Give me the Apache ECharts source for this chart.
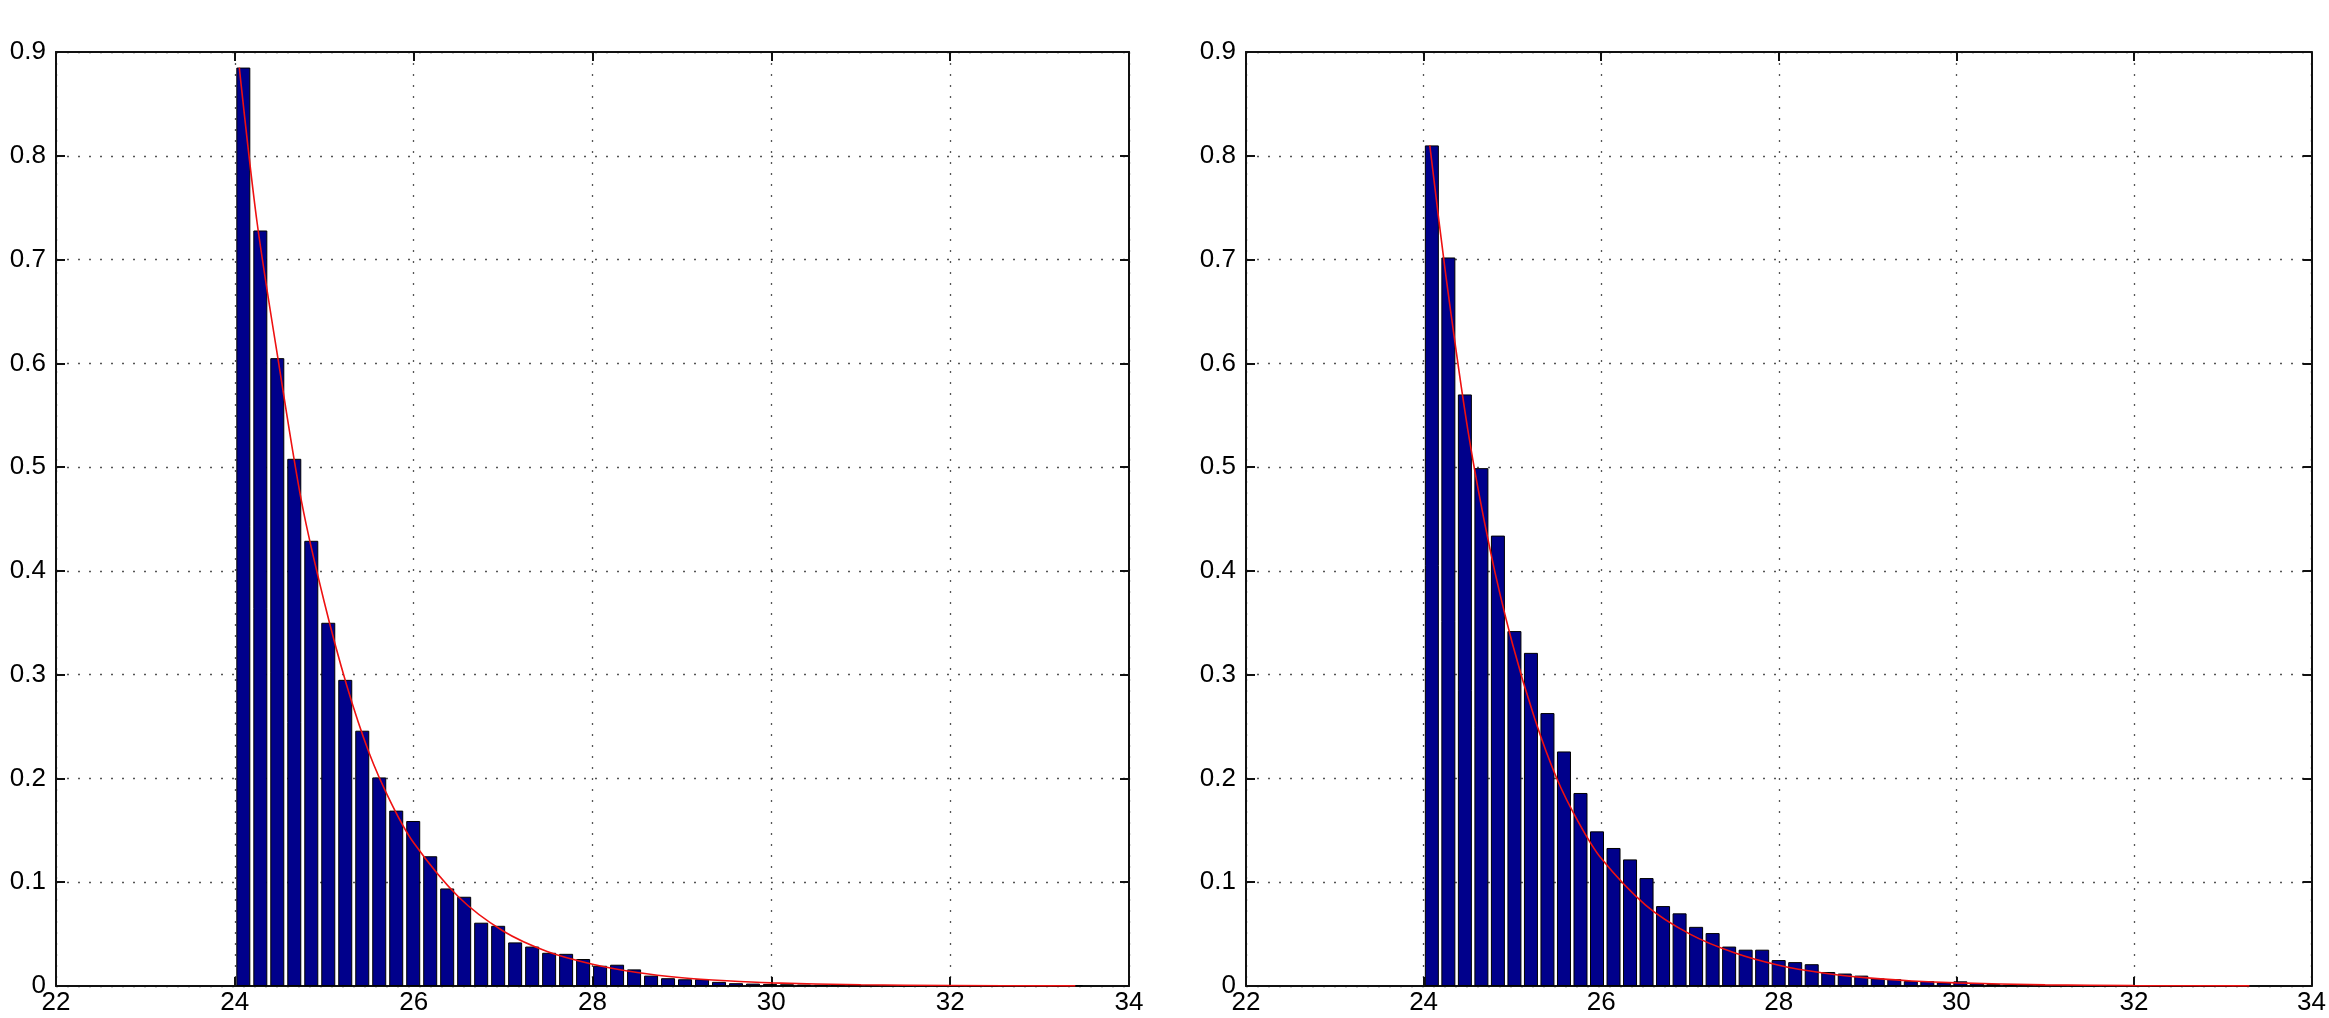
<!DOCTYPE html>
<html>
<head>
<meta charset="utf-8">
<script src="https://cdn.jsdelivr.net/npm/echarts@6/dist/echarts.min.js"></script>
<style>
  html, body { margin: 0; padding: 0; background: #fff; }
  #chart { width: 2329px; height: 1018px; }
</style>
</head>
<body>
<div id="chart"></div>
<script>
// x ticks and y ticks shared by both panels
var xTicks = [22, 24, 26, 28, 30, 32, 34];
var yTicks = [0, 0.1, 0.2, 0.3, 0.4, 0.5, 0.6, 0.7, 0.8, 0.9];

// histogram bins (left panel)
var binStartL = 24;
var binWidthL = 0.19;
var barsL = [
    0.885, 0.728, 0.605, 0.508, 0.429, 0.350, 0.295, 0.246, 0.201, 0.169,
    0.159, 0.125, 0.094, 0.086, 0.061, 0.058, 0.042, 0.038, 0.032, 0.031,
    0.026, 0.0195, 0.0205, 0.016, 0.010, 0.0075, 0.0065, 0.0065, 0.004, 0.0027,
    0.0023, 0.002, 0.0017, 0.0014, 0.0012, 0.001, 0.0009, 0.0008, 0.0008, 0.0006,
    0.0005, 0.0006, 0.0004, 0.0003, 0.0003, 0.0002, 0.0003, 0.0002, 0.0001, 0.0008
];
// fitted curve (left panel)
var curveXL = [24.05, 24.25, 24.5, 24.75, 25.0, 25.25, 25.5, 25.75, 26.0, 26.5, 27.0, 27.5, 28.0, 28.5, 29.0, 29.5, 30.0, 31.0, 32.0, 33.4];
var curveYL = [0.885, 0.735, 0.595, 0.465, 0.370, 0.290, 0.225, 0.176, 0.138, 0.086, 0.053, 0.033, 0.021, 0.013, 0.008, 0.005, 0.003, 0.0012, 0.0005, 0.0001];

// histogram bins (right panel)
var binStartR = 24;
var binWidthR = 0.186;
var barsR = [
    0.810, 0.702, 0.570, 0.499, 0.434, 0.342, 0.321, 0.263, 0.226, 0.186,
    0.149, 0.133, 0.122, 0.104, 0.077, 0.070, 0.057, 0.051, 0.038, 0.035,
    0.035, 0.025, 0.023, 0.021, 0.0135, 0.012, 0.010, 0.0073, 0.0066, 0.0047,
    0.0047, 0.0034, 0.0045, 0.0026, 0.0018, 0.0012, 0.0010, 0.0009, 0.0007, 0.0006,
    0.0005, 0.0004, 0.0006, 0.0003, 0.0003, 0.0002, 0.0002, 0.0001, 0.0001, 0.0005
];
var curveXR = [24.07, 24.25, 24.5, 24.75, 25.0, 25.25, 25.5, 25.75, 26.0, 26.5, 27.0, 27.5, 28.0, 28.5, 29.0, 29.5, 30.0, 31.0, 32.0, 33.3];
var curveYR = [0.810, 0.685, 0.535, 0.420, 0.330, 0.258, 0.200, 0.157, 0.123, 0.078, 0.050, 0.032, 0.020, 0.0125, 0.0078, 0.0048, 0.003, 0.0011, 0.0004, 0.0001];

function binPairs(start, width, vals) {
    return vals.map(function (v, i) { return [start + width * (i + 0.5), v]; });
}
function zip(xs, ys) {
    return xs.map(function (x, i) { return [x, ys[i]]; });
}

var font = { fontFamily: 'Liberation Sans', fontSize: 26, color: '#000' };
var frame = { show: true, onZero: false, lineStyle: { color: '#111', width: 2 } };
var tick = { show: true, inside: true, length: 9, lineStyle: { color: '#111', width: 2 } };
var dots = { show: true, lineStyle: { color: '#555', width: 1.3, type: [2, 9] } };

var grids = [
    { left: 56, top: 52, width: 1073, height: 934 },
    { left: 1246, top: 52, width: 1075, height: 934 }
];

var xAxes = [], yAxes = [];
grids.forEach(function (g, gi) {
    xAxes.push({
        type: 'value', gridIndex: gi, position: 'bottom',
        min: xTicks[0], max: xTicks[xTicks.length - 1], interval: 2,
        axisLine: frame, axisTick: tick, splitLine: dots,
        axisLabel: Object.assign({ margin: 4 }, font)
    });
    xAxes.push({
        type: 'value', gridIndex: gi, position: 'top',
        min: xTicks[0], max: xTicks[xTicks.length - 1], interval: 2,
        axisLine: frame, axisTick: tick, splitLine: { show: false },
        axisLabel: { show: false }
    });
    yAxes.push({
        type: 'value', gridIndex: gi, position: 'left',
        min: yTicks[0], max: yTicks[yTicks.length - 1], interval: 0.1,
        axisLine: frame, axisTick: tick, splitLine: dots,
        axisLabel: Object.assign({ margin: 10, formatter: function (v) { return String(+v.toFixed(1)); } }, font)
    });
    yAxes.push({
        type: 'value', gridIndex: gi, position: 'right',
        min: yTicks[0], max: yTicks[yTicks.length - 1], interval: 0.1,
        axisLine: frame, axisTick: tick, splitLine: { show: false },
        axisLabel: { show: false }
    });
});

function barSeries(xi, yi, data) {
    return {
        type: 'bar', xAxisIndex: xi, yAxisIndex: yi, data: data,
        barWidth: 14, silent: true,
        itemStyle: { color: '#00008B', borderColor: '#000', borderWidth: 1 }
    };
}
function curveSeries(xi, yi, data) {
    return {
        type: 'line', xAxisIndex: xi, yAxisIndex: yi, data: data,
        smooth: 0.3, showSymbol: false, silent: true, z: 5,
        lineStyle: { color: '#ee1111', width: 1.6 }
    };
}

var chart = echarts.init(document.getElementById('chart'));
chart.setOption({
    animation: false,
    backgroundColor: '#fff',
    grid: grids,
    xAxis: xAxes,
    yAxis: yAxes,
    series: [
        barSeries(0, 0, binPairs(binStartL, binWidthL, barsL)),
        curveSeries(0, 0, zip(curveXL, curveYL)),
        barSeries(2, 2, binPairs(binStartR, binWidthR, barsR)),
        curveSeries(2, 2, zip(curveXR, curveYR))
    ]
});
</script>
</body>
</html>
